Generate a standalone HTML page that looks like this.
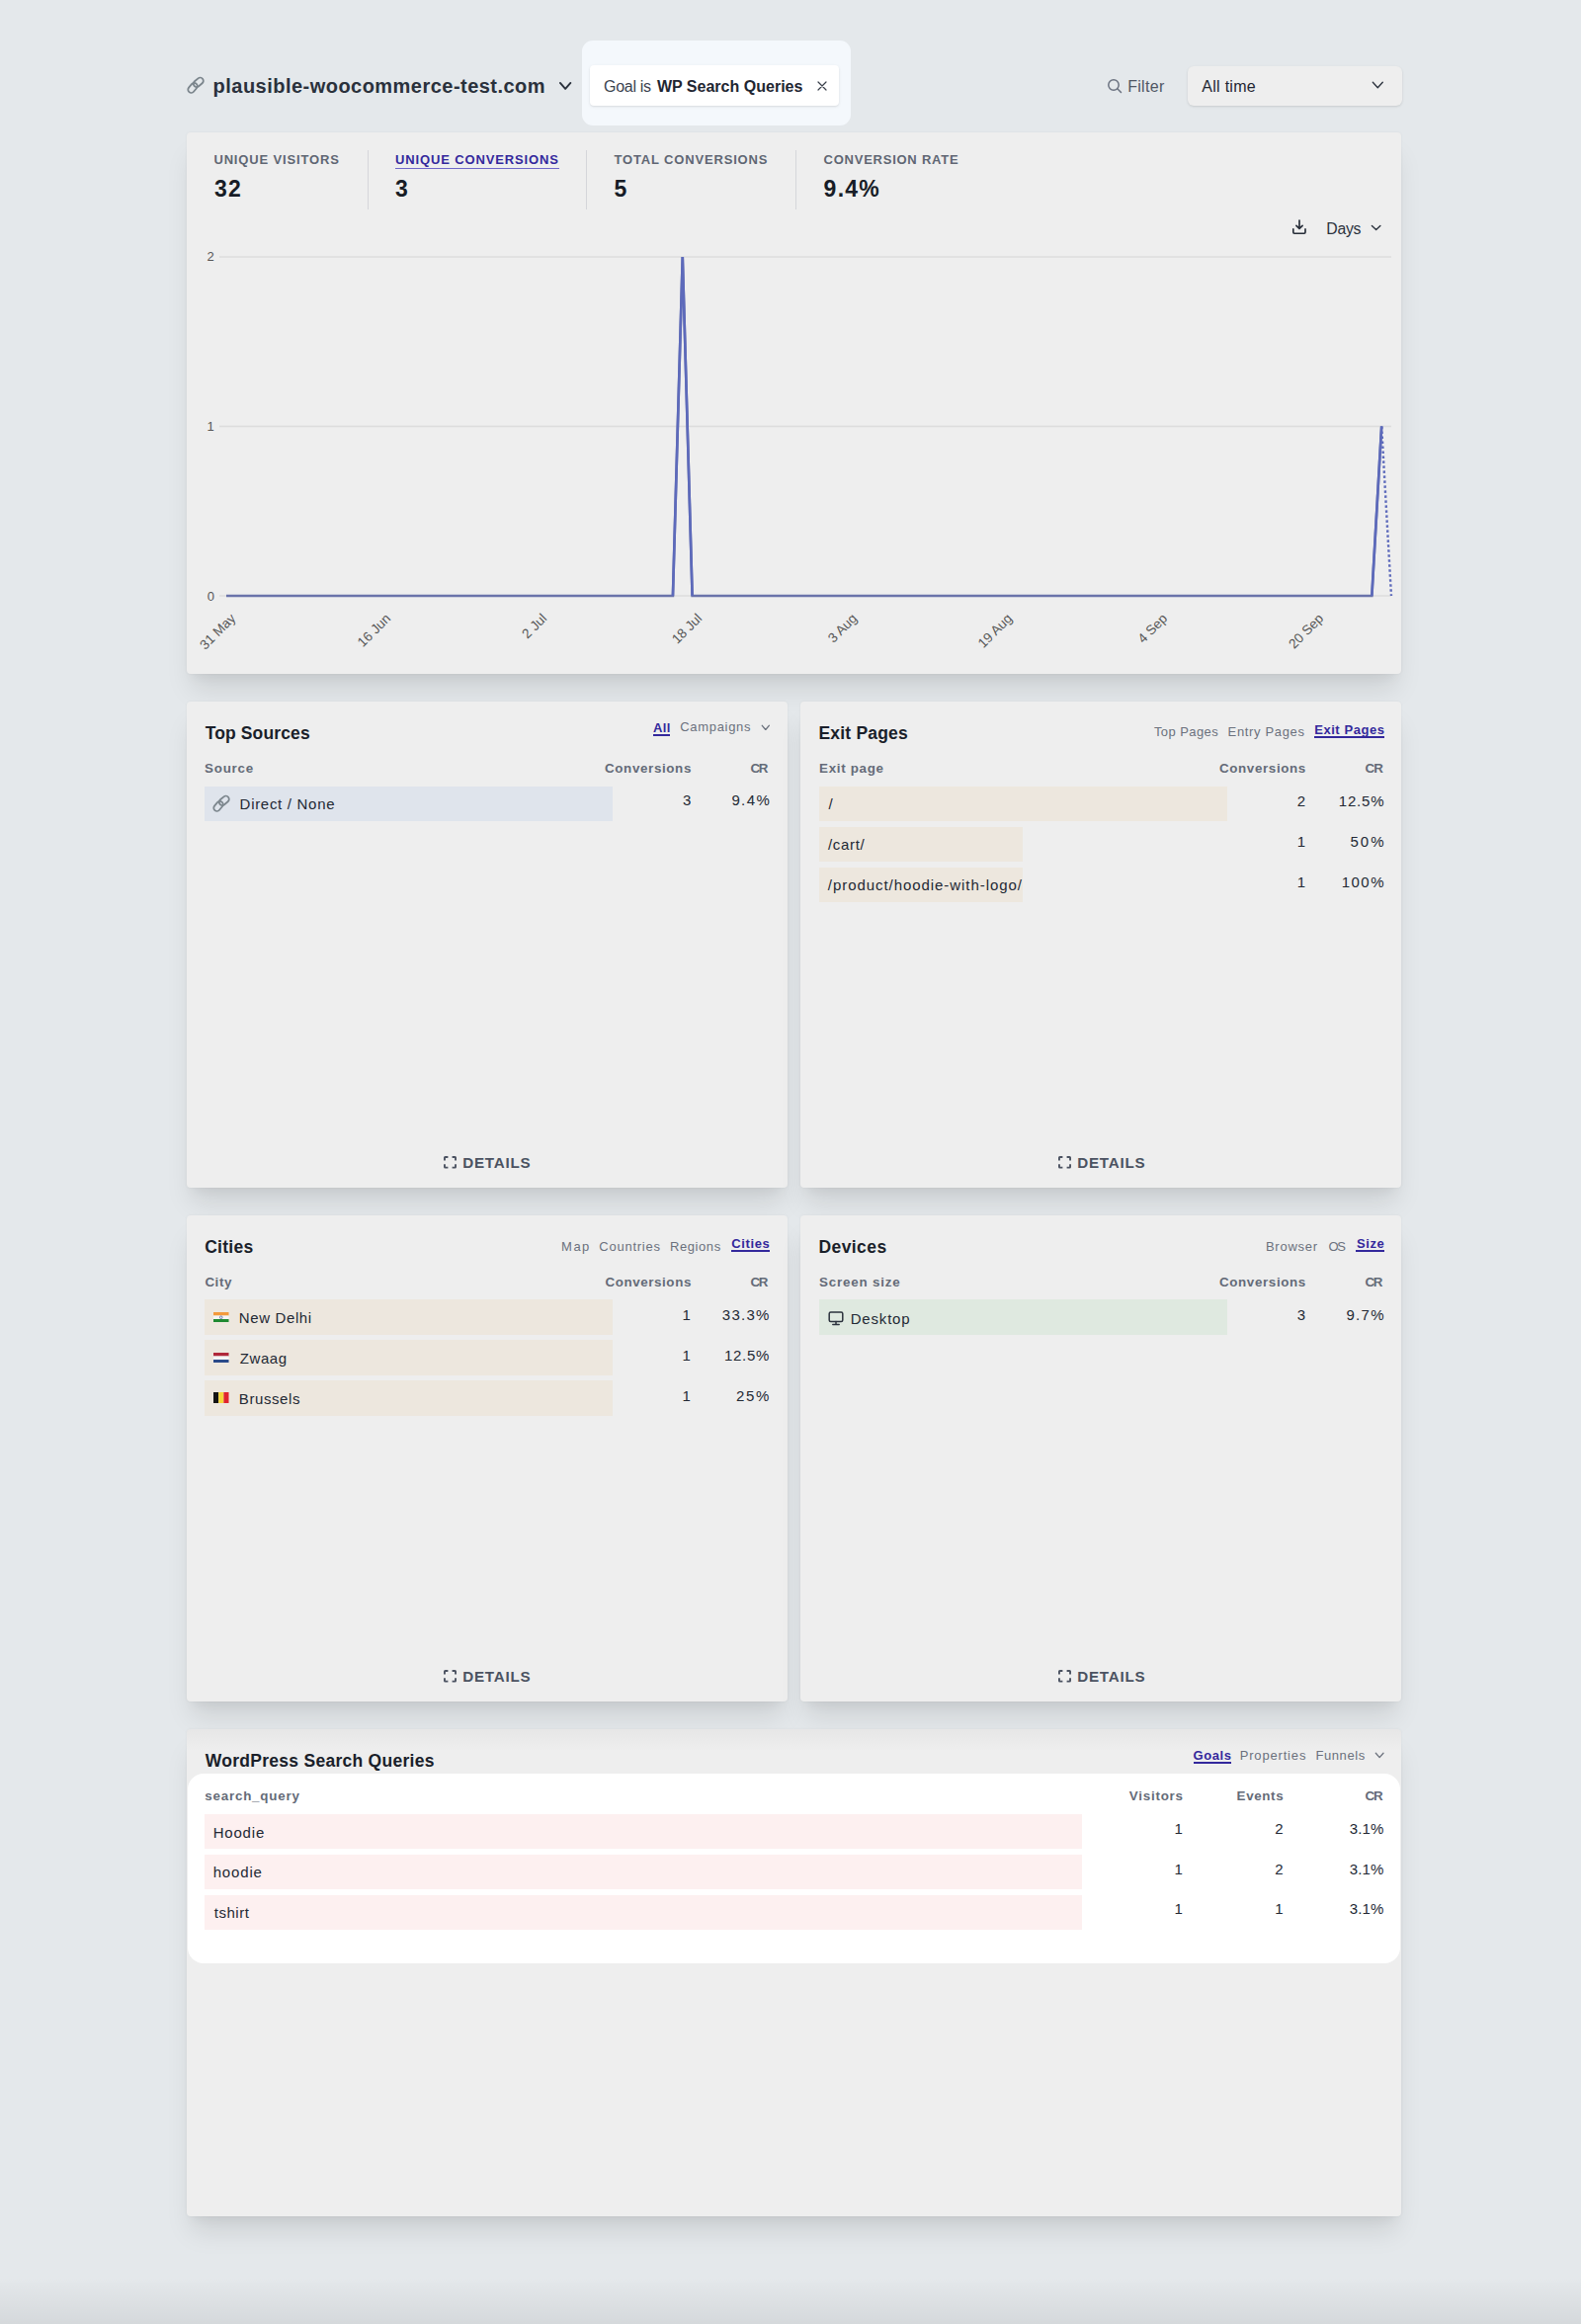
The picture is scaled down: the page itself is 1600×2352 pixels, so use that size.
<!DOCTYPE html>
<html><head><meta charset="utf-8"><title>Plausible</title>
<style>
html,body{margin:0;padding:0}
body{width:1600px;height:2352px;position:relative;overflow:hidden;background:#e4e8eb;font-family:"Liberation Sans",sans-serif}
.card{position:absolute;background:#eeeeee;border-radius:4px;box-shadow:0 20px 25px -5px rgba(0,0,0,0.10), 0 10px 10px -5px rgba(0,0,0,0.04), 0 0 3px rgba(0,0,0,0.05)}
.t{position:absolute;white-space:nowrap;line-height:20px}
.xl{position:absolute;width:200px;height:15px;line-height:15px;text-align:right;font-size:13.6px;color:#575757;transform-origin:100% 50%;transform:rotate(-45deg);white-space:nowrap}
.bot{position:absolute;left:0;right:0;bottom:0;height:46px;background:linear-gradient(to bottom,rgba(0,0,0,0),rgba(0,0,0,0.065))}
</style></head>
<body>
<div class="card" style="left:189px;top:133.6px;width:1229px;height:548.3px"></div>
<div class="card" style="left:189px;top:710px;width:608px;height:492.4px"></div>
<div class="card" style="left:810px;top:710px;width:608px;height:492.4px"></div>
<div class="card" style="left:189px;top:1230px;width:608px;height:492.1px"></div>
<div class="card" style="left:810px;top:1230px;width:608px;height:492.1px"></div>
<div class="card" style="left:189px;top:1750px;width:1229px;height:493.2px"></div>
<div style="position:absolute;left:189px;top:1750px;width:1229px;height:22px;background:linear-gradient(rgba(0,0,0,0.03),rgba(0,0,0,0));border-radius:4px 4px 0 0;"></div>
<div style="position:absolute;left:588.8px;top:41px;width:272.2px;height:86px;background:#f4f8fc;border-radius:11px;"></div>
<div style="position:absolute;left:596.5px;top:65.6px;width:252.5px;height:41px;background:#ffffff;border-radius:4px;box-shadow:0 1px 3px rgba(0,0,0,0.10),0 1px 2px -1px rgba(0,0,0,0.10);"></div>
<div style="position:absolute;left:1202px;top:66.5px;width:217px;height:40px;background:#eeeeee;border-radius:6px;box-shadow:0 1px 3px rgba(0,0,0,0.10),0 1px 2px -1px rgba(0,0,0,0.10);"></div>
<div style="position:absolute;left:189.5px;top:1794.6px;width:1227.5px;height:192px;background:#ffffff;border-radius:16px;"></div>
<div style="position:absolute;left:371.9px;top:152px;width:1px;height:59.5px;background:#d5d6da;"></div>
<div style="position:absolute;left:593.2px;top:152px;width:1px;height:59.5px;background:#d5d6da;"></div>
<div style="position:absolute;left:804.9px;top:152px;width:1px;height:59.5px;background:#d5d6da;"></div>
<div style="position:absolute;left:400px;top:169.5px;width:165.5px;height:1.2px;background:#6f67c9;"></div>
<div style="position:absolute;left:207.3px;top:795.7px;width:412.7px;height:35.6px;background:#dfe4ec;"></div>
<div style="position:absolute;left:828.7px;top:795.7px;width:413.5px;height:35.6px;background:#ede7de;"></div>
<div style="position:absolute;left:828.7px;top:836.7px;width:206.5px;height:35.6px;background:#ede7de;"></div>
<div style="position:absolute;left:828.7px;top:877.7px;width:206.5px;height:35.6px;background:#ede7de;"></div>
<div style="position:absolute;left:207.3px;top:1315.2px;width:412.7px;height:35.6px;background:#ede7de;"></div>
<div style="position:absolute;left:207.3px;top:1356.2px;width:412.7px;height:35.6px;background:#ede7de;"></div>
<div style="position:absolute;left:207.3px;top:1397.2px;width:412.7px;height:35.6px;background:#ede7de;"></div>
<div style="position:absolute;left:828.7px;top:1315.2px;width:413.5px;height:35.6px;background:#dfe9e0;"></div>
<div style="position:absolute;left:207.3px;top:1835.7px;width:888px;height:35.6px;background:#fdf0f0;"></div>
<div style="position:absolute;left:207.3px;top:1876.6000000000001px;width:888px;height:35.6px;background:#fdf0f0;"></div>
<div style="position:absolute;left:207.3px;top:1917.5px;width:888px;height:35.6px;background:#fdf0f0;"></div>
<div style="position:absolute;left:661px;top:742.7px;width:17px;height:2px;background:#33289c;"></div>
<div style="position:absolute;left:1330px;top:744.8px;width:71px;height:2px;background:#33289c;"></div>
<div style="position:absolute;left:740px;top:1265px;width:39px;height:2px;background:#33289c;"></div>
<div style="position:absolute;left:1372px;top:1265px;width:29px;height:2px;background:#33289c;"></div>
<div style="position:absolute;left:1207.5px;top:1783.2px;width:38.5px;height:2px;background:#33289c;"></div>
<svg style="position:absolute;left:185.7px;top:73.9px;" width="24" height="24" viewBox="0 0 24 24"><g fill="none" stroke="#7b858c" stroke-width="1.8"><rect transform="translate(9.00 14.90) rotate(-50)" x="-5.55" y="-3.25" width="11.10" height="6.50" rx="3.25"/><rect transform="translate(14.80 9.30) rotate(-40)" x="-5.55" y="-3.25" width="11.10" height="6.50" rx="3.25"/></g></svg>
<svg style="position:absolute;left:212.4px;top:800.9px;" width="24" height="24" viewBox="0 0 24 24"><g fill="none" stroke="#7d878e" stroke-width="1.8"><rect transform="translate(9.00 14.90) rotate(-50)" x="-5.55" y="-3.25" width="11.10" height="6.50" rx="3.25"/><rect transform="translate(14.80 9.30) rotate(-40)" x="-5.55" y="-3.25" width="11.10" height="6.50" rx="3.25"/></g></svg>
<svg style="position:absolute;left:565.1px;top:81.89999999999999px;" width="14.3" height="9.8" viewBox="0 0 14.3 9.8"><polyline points="1.9,1.9 7.15,7.9 12.4,1.9" fill="none" stroke="#2a313c" stroke-width="1.9" stroke-linecap="round" stroke-linejoin="round"/></svg>
<svg style="position:absolute;left:1388.2px;top:82.2px;" width="12.6" height="8.1" viewBox="0 0 12.6 8.1"><polyline points="1.3,1.3 6.3,6.8 11.299999999999999,1.3" fill="none" stroke="#2a313c" stroke-width="1.3" stroke-linecap="round" stroke-linejoin="round"/></svg>
<svg style="position:absolute;left:1386.6px;top:227.1px;" width="11.3" height="6.8" viewBox="0 0 11.3 6.8"><polyline points="1.4,1.4 5.65,5.4 9.9,1.4" fill="none" stroke="#2b323d" stroke-width="1.4" stroke-linecap="round" stroke-linejoin="round"/></svg>
<svg style="position:absolute;left:769.5px;top:732.7px;" width="9.6" height="6.800000000000045" viewBox="0 0 9.6 6.800000000000045"><polyline points="1.3,1.3 4.8,5.500000000000045 8.299999999999999,1.3" fill="none" stroke="#6b717d" stroke-width="1.3" stroke-linecap="round" stroke-linejoin="round"/></svg>
<svg style="position:absolute;left:1391.2px;top:1773.2px;" width="10.300000000000045" height="6.899999999999954" viewBox="0 0 10.300000000000045 6.899999999999954"><polyline points="1.3,1.3 5.150000000000023,5.599999999999954 9.000000000000044,1.3" fill="none" stroke="#6b717d" stroke-width="1.3" stroke-linecap="round" stroke-linejoin="round"/></svg>
<svg style="position:absolute;left:826.5px;top:81.7px;" width="10" height="10" viewBox="0 0 10 10"><path d="M1 1L9 9M9 1L1 9" stroke="#3a404b" stroke-width="1.2" stroke-linecap="round"/></svg>
<svg style="position:absolute;left:1119.5px;top:79px;" width="16" height="16" viewBox="0 0 16 16"><circle cx="7" cy="7" r="5.2" fill="none" stroke="#6b7280" stroke-width="1.5"/><path d="M10.8 10.8L14.5 14.5" stroke="#6b7280" stroke-width="1.5" stroke-linecap="round"/></svg>
<svg style="position:absolute;left:1306px;top:221px;" width="18" height="18" viewBox="0 0 18 18"><path d="M9 2V10.3M5.9 7.3L9 10.4L12.1 7.3" fill="none" stroke="#262d38" stroke-width="1.65" stroke-linecap="round" stroke-linejoin="round"/><path d="M2.8 10.9V14Q2.8 15.2 4 15.2H13.8Q15 15.2 15 14V10.9" fill="none" stroke="#262d38" stroke-width="1.65" stroke-linecap="round" stroke-linejoin="round"/></svg>
<svg style="position:absolute;left:448.3px;top:1168.9px;" width="15" height="15" viewBox="0 0 15 15"><path d="M1.95 5.4V2.6Q1.95 1.95 2.6 1.95H5.4M9.6 1.95H12.4Q13.05 1.95 13.05 2.6V5.4M13.05 9.2V12Q13.05 12.65 12.4 12.65H9.6M5.4 12.65H2.6Q1.95 12.65 1.95 12V9.2" fill="none" stroke="#4b5261" stroke-width="1.9"/></svg>
<svg style="position:absolute;left:1070.3px;top:1168.9px;" width="15" height="15" viewBox="0 0 15 15"><path d="M1.95 5.4V2.6Q1.95 1.95 2.6 1.95H5.4M9.6 1.95H12.4Q13.05 1.95 13.05 2.6V5.4M13.05 9.2V12Q13.05 12.65 12.4 12.65H9.6M5.4 12.65H2.6Q1.95 12.65 1.95 12V9.2" fill="none" stroke="#4b5261" stroke-width="1.9"/></svg>
<svg style="position:absolute;left:448.3px;top:1689.3px;" width="15" height="15" viewBox="0 0 15 15"><path d="M1.95 5.4V2.6Q1.95 1.95 2.6 1.95H5.4M9.6 1.95H12.4Q13.05 1.95 13.05 2.6V5.4M13.05 9.2V12Q13.05 12.65 12.4 12.65H9.6M5.4 12.65H2.6Q1.95 12.65 1.95 12V9.2" fill="none" stroke="#4b5261" stroke-width="1.9"/></svg>
<svg style="position:absolute;left:1070.3px;top:1689.3px;" width="15" height="15" viewBox="0 0 15 15"><path d="M1.95 5.4V2.6Q1.95 1.95 2.6 1.95H5.4M9.6 1.95H12.4Q13.05 1.95 13.05 2.6V5.4M13.05 9.2V12Q13.05 12.65 12.4 12.65H9.6M5.4 12.65H2.6Q1.95 12.65 1.95 12V9.2" fill="none" stroke="#4b5261" stroke-width="1.9"/></svg>
<svg style="position:absolute;left:837.5px;top:1327.3px;" width="16" height="15" viewBox="0 0 16 15"><rect x="1.2" y="1" width="13.6" height="9.6" rx="1.5" fill="none" stroke="#2b323d" stroke-width="1.5"/><path d="M8 10.6V13.6M4.8 13.6H11.2" stroke="#2b323d" stroke-width="1.5" stroke-linecap="round"/></svg>
<svg style="position:absolute;left:216.2px;top:1327.8px;" width="15.5" height="10.5" viewBox="0 0 15.5 10.5"><rect width="15.5" height="3.5" fill="#f39a3c"/><rect y="3.5" width="15.5" height="3.5" fill="#f5f5f5"/><rect y="7" width="15.5" height="3.5" fill="#1f8a32"/><circle cx="7.75" cy="5.25" r="1.3" fill="none" stroke="#283c8c" stroke-width="0.6"/></svg>
<svg style="position:absolute;left:216.2px;top:1368.9px;" width="15.5" height="10.5" viewBox="0 0 15.5 10.5"><rect width="15.5" height="3.5" fill="#b0283a"/><rect y="3.5" width="15.5" height="3.5" fill="#f5f5f5"/><rect y="7" width="15.5" height="3.5" fill="#2a4a8a"/></svg>
<svg style="position:absolute;left:216.2px;top:1409.2px;" width="15.5" height="11" viewBox="0 0 15.5 11"><rect width="5.2" height="11" fill="#141414"/><rect x="5.2" width="5.2" height="11" fill="#f5d63a"/><rect x="10.4" width="5.1" height="11" fill="#e0242e"/></svg>
<svg style="position:absolute;left:0;top:0" width="1600" height="700" viewBox="0 0 1600 700"><line x1="222" y1="603.0" x2="1408" y2="603.0" stroke="#dcdcdc" stroke-width="1.3"/><line x1="222" y1="431.5" x2="1408" y2="431.5" stroke="#dcdcdc" stroke-width="1.3"/><line x1="222" y1="260.0" x2="1408" y2="260.0" stroke="#dcdcdc" stroke-width="1.3"/><polyline points="229.00,603.00 238.82,603.00 248.65,603.00 258.48,603.00 268.30,603.00 278.12,603.00 287.95,603.00 297.77,603.00 307.60,603.00 317.43,603.00 327.25,603.00 337.07,603.00 346.90,603.00 356.73,603.00 366.55,603.00 376.38,603.00 386.20,603.00 396.02,603.00 405.85,603.00 415.67,603.00 425.50,603.00 435.32,603.00 445.15,603.00 454.98,603.00 464.80,603.00 474.62,603.00 484.45,603.00 494.27,603.00 504.10,603.00 513.92,603.00 523.75,603.00 533.58,603.00 543.40,603.00 553.22,603.00 563.05,603.00 572.88,603.00 582.70,603.00 592.52,603.00 602.35,603.00 612.17,603.00 622.00,603.00 631.83,603.00 641.65,603.00 651.47,603.00 661.30,603.00 671.12,603.00 680.95,603.00 690.77,260.00 700.60,603.00 710.42,603.00 720.25,603.00 730.08,603.00 739.90,603.00 749.72,603.00 759.55,603.00 769.38,603.00 779.20,603.00 789.02,603.00 798.85,603.00 808.67,603.00 818.50,603.00 828.32,603.00 838.15,603.00 847.97,603.00 857.80,603.00 867.62,603.00 877.45,603.00 887.27,603.00 897.10,603.00 906.92,603.00 916.75,603.00 926.57,603.00 936.40,603.00 946.22,603.00 956.05,603.00 965.88,603.00 975.70,603.00 985.52,603.00 995.35,603.00 1005.17,603.00 1015.00,603.00 1024.82,603.00 1034.65,603.00 1044.47,603.00 1054.30,603.00 1064.12,603.00 1073.95,603.00 1083.78,603.00 1093.60,603.00 1103.42,603.00 1113.25,603.00 1123.07,603.00 1132.90,603.00 1142.72,603.00 1152.55,603.00 1162.38,603.00 1172.20,603.00 1182.03,603.00 1191.85,603.00 1201.67,603.00 1211.50,603.00 1221.32,603.00 1231.15,603.00 1240.97,603.00 1250.80,603.00 1260.62,603.00 1270.45,603.00 1280.27,603.00 1290.10,603.00 1299.92,603.00 1309.75,603.00 1319.57,603.00 1329.40,603.00 1339.22,603.00 1349.05,603.00 1358.88,603.00 1368.70,603.00 1378.52,603.00 1388.35,603.00 1398.17,431.50" fill="none" stroke="#6a73aa" stroke-width="2.6" stroke-linejoin="miter"/><polyline points="680.95,603.00 690.77,260.00 700.60,603.00" fill="none" stroke="#5d6abb" stroke-width="2.6" stroke-linejoin="miter"/><polyline points="1388.35,603.00 1398.17,431.50" fill="none" stroke="#5d6abb" stroke-width="2.6"/><line x1="1398.17" y1="431.50" x2="1408.00" y2="603.00" stroke="#5d6abb" stroke-width="2.4" stroke-dasharray="2.5,2.5"/></svg>
<div class="xl" style="left:36.20px;top:615.70px">31 May</div>
<div class="xl" style="left:193.40px;top:615.70px">16 Jun</div>
<div class="xl" style="left:350.60px;top:615.70px">2 Jul</div>
<div class="xl" style="left:507.80px;top:615.70px">18 Jul</div>
<div class="xl" style="left:665.00px;top:615.70px">3 Aug</div>
<div class="xl" style="left:822.20px;top:615.70px">19 Aug</div>
<div class="xl" style="left:979.40px;top:615.70px">4 Sep</div>
<div class="xl" style="left:1136.60px;top:615.70px">20 Sep</div>
<div class="t" style="left:215.60px;top:77.00px;font-size:20px;font-weight:700;color:#2a313c;letter-spacing:0.472px">plausible-woocommerce-test.com</div>
<div class="t" style="left:611.00px;top:77.50px;font-size:16px;font-weight:400;color:#3b4350;letter-spacing:-0.283px">Goal is</div>
<div class="t" style="left:664.90px;top:77.50px;font-size:16px;font-weight:700;color:#1f2632;letter-spacing:0.011px">WP Search Queries</div>
<div class="t" style="left:1141.20px;top:77.60px;font-size:16px;font-weight:400;color:#505764;letter-spacing:0.295px">Filter</div>
<div class="t" style="left:1216.30px;top:77.60px;font-size:16px;font-weight:400;color:#1f2632;letter-spacing:0.278px">All time</div>
<div class="t" style="left:216.40px;top:151.70px;font-size:13px;font-weight:700;color:#5f6673;letter-spacing:0.854px">UNIQUE VISITORS</div>
<div class="t" style="left:400.00px;top:152.00px;font-size:13px;font-weight:700;color:#33289c;letter-spacing:0.860px">UNIQUE CONVERSIONS</div>
<div class="t" style="left:621.50px;top:151.80px;font-size:13px;font-weight:700;color:#5f6673;letter-spacing:0.835px">TOTAL CONVERSIONS</div>
<div class="t" style="left:833.60px;top:151.80px;font-size:13px;font-weight:700;color:#5f6673;letter-spacing:0.752px">CONVERSION RATE</div>
<div class="t" style="left:217.00px;top:181.30px;font-size:23px;font-weight:700;color:#171c26;letter-spacing:1.108px">32</div>
<div class="t" style="left:400.00px;top:181.30px;font-size:23px;font-weight:700;color:#171c26;letter-spacing:0.000px">3</div>
<div class="t" style="left:621.50px;top:181.30px;font-size:23px;font-weight:700;color:#171c26;letter-spacing:0.000px">5</div>
<div class="t" style="left:833.60px;top:181.30px;font-size:23px;font-weight:700;color:#171c26;letter-spacing:1.242px">9.4%</div>
<div class="t" style="left:1342.30px;top:221.70px;font-size:15.8px;font-weight:400;color:#2b323d;letter-spacing:-0.264px">Days</div>
<div class="t" style="left:209.60px;top:249.80px;font-size:13px;font-weight:400;color:#575757;letter-spacing:0.000px">2</div>
<div class="t" style="left:209.60px;top:421.50px;font-size:13px;font-weight:400;color:#575757;letter-spacing:0.000px">1</div>
<div class="t" style="left:209.80px;top:593.50px;font-size:13px;font-weight:400;color:#575757;letter-spacing:0.000px">0</div>
<div class="t" style="left:207.70px;top:731.80px;font-size:17.5px;font-weight:700;color:#1a1f2a;letter-spacing:0.124px">Top Sources</div>
<div class="t" style="left:661.10px;top:726.50px;font-size:13px;font-weight:700;color:#33289c;letter-spacing:0.350px">All</div>
<div class="t" style="left:688.20px;top:726.30px;font-size:13px;font-weight:400;color:#6b717d;letter-spacing:0.693px">Campaigns</div>
<div class="t" style="left:207.10px;top:767.50px;font-size:13.4px;font-weight:700;color:#646b78;letter-spacing:0.730px">Source</div>
<div class="t" style="left:612.00px;top:767.50px;font-size:13.4px;font-weight:700;color:#646b78;letter-spacing:0.624px">Conversions</div>
<div class="t" style="left:759.60px;top:767.50px;font-size:13.4px;font-weight:700;color:#646b78;letter-spacing:-1.570px">CR</div>
<div class="t" style="left:242.60px;top:804.20px;font-size:15px;font-weight:400;color:#232934;letter-spacing:0.701px">Direct / None</div>
<div class="t" style="left:691.00px;top:800.30px;font-size:15px;font-weight:400;color:#232934;letter-spacing:0.000px">3</div>
<div class="t" style="left:740.40px;top:800.30px;font-size:15px;font-weight:400;color:#232934;letter-spacing:1.383px">9.4%</div>
<div class="t" style="left:828.50px;top:731.80px;font-size:17.5px;font-weight:700;color:#1a1f2a;letter-spacing:0.191px">Exit Pages</div>
<div class="t" style="left:1167.90px;top:731.20px;font-size:13px;font-weight:400;color:#6b717d;letter-spacing:0.433px">Top Pages</div>
<div class="t" style="left:1242.60px;top:731.20px;font-size:13px;font-weight:400;color:#6b717d;letter-spacing:0.649px">Entry Pages</div>
<div class="t" style="left:1330.20px;top:728.90px;font-size:13px;font-weight:700;color:#33289c;letter-spacing:0.553px">Exit Pages</div>
<div class="t" style="left:829.10px;top:767.50px;font-size:13.4px;font-weight:700;color:#646b78;letter-spacing:0.677px">Exit page</div>
<div class="t" style="left:1234.00px;top:767.50px;font-size:13.4px;font-weight:700;color:#646b78;letter-spacing:0.614px">Conversions</div>
<div class="t" style="left:1381.40px;top:767.50px;font-size:13.4px;font-weight:700;color:#646b78;letter-spacing:-0.870px">CR</div>
<div class="t" style="left:838.50px;top:804.20px;font-size:15px;font-weight:400;color:#232934;letter-spacing:0.000px">/</div>
<div class="t" style="left:837.90px;top:845.20px;font-size:15px;font-weight:400;color:#232934;letter-spacing:0.706px">/cart/</div>
<div class="t" style="left:837.80px;top:886.20px;font-size:15px;font-weight:400;color:#232934;letter-spacing:0.943px">/product/hoodie-with-logo/</div>
<div class="t" style="left:1312.80px;top:800.80px;font-size:15px;font-weight:400;color:#232934;letter-spacing:0.000px">2</div>
<div class="t" style="left:1354.80px;top:800.80px;font-size:15px;font-weight:400;color:#232934;letter-spacing:0.801px">12.5%</div>
<div class="t" style="left:1312.80px;top:841.70px;font-size:15px;font-weight:400;color:#232934;letter-spacing:0.000px">1</div>
<div class="t" style="left:1366.50px;top:841.70px;font-size:15px;font-weight:400;color:#232934;letter-spacing:2.008px">50%</div>
<div class="t" style="left:1312.80px;top:882.60px;font-size:15px;font-weight:400;color:#232934;letter-spacing:0.000px">1</div>
<div class="t" style="left:1357.70px;top:882.60px;font-size:15px;font-weight:400;color:#232934;letter-spacing:1.491px">100%</div>
<div class="t" style="left:207.20px;top:1251.80px;font-size:17.5px;font-weight:700;color:#1a1f2a;letter-spacing:0.276px">Cities</div>
<div class="t" style="left:568.10px;top:1251.50px;font-size:13px;font-weight:400;color:#6b717d;letter-spacing:1.470px">Map</div>
<div class="t" style="left:606.30px;top:1251.50px;font-size:13px;font-weight:400;color:#6b717d;letter-spacing:0.758px">Countries</div>
<div class="t" style="left:677.90px;top:1251.50px;font-size:13px;font-weight:400;color:#6b717d;letter-spacing:0.601px">Regions</div>
<div class="t" style="left:740.20px;top:1249.00px;font-size:13px;font-weight:700;color:#33289c;letter-spacing:0.646px">Cities</div>
<div class="t" style="left:207.40px;top:1287.50px;font-size:13.4px;font-weight:700;color:#646b78;letter-spacing:0.550px">City</div>
<div class="t" style="left:612.40px;top:1287.50px;font-size:13.4px;font-weight:700;color:#646b78;letter-spacing:0.584px">Conversions</div>
<div class="t" style="left:759.60px;top:1287.50px;font-size:13.4px;font-weight:700;color:#646b78;letter-spacing:-1.470px">CR</div>
<div class="t" style="left:241.80px;top:1324.30px;font-size:15px;font-weight:400;color:#232934;letter-spacing:0.622px">New Delhi</div>
<div class="t" style="left:690.60px;top:1320.80px;font-size:15px;font-weight:400;color:#232934;letter-spacing:0.000px">1</div>
<div class="t" style="left:730.80px;top:1320.80px;font-size:15px;font-weight:400;color:#232934;letter-spacing:1.276px">33.3%</div>
<div class="t" style="left:242.80px;top:1365.30px;font-size:15px;font-weight:400;color:#232934;letter-spacing:0.555px">Zwaag</div>
<div class="t" style="left:690.60px;top:1361.70px;font-size:15px;font-weight:400;color:#232934;letter-spacing:0.000px">1</div>
<div class="t" style="left:732.90px;top:1361.70px;font-size:15px;font-weight:400;color:#232934;letter-spacing:0.751px">12.5%</div>
<div class="t" style="left:241.80px;top:1406.30px;font-size:15px;font-weight:400;color:#232934;letter-spacing:0.583px">Brussels</div>
<div class="t" style="left:690.60px;top:1402.60px;font-size:15px;font-weight:400;color:#232934;letter-spacing:0.000px">1</div>
<div class="t" style="left:745.00px;top:1402.60px;font-size:15px;font-weight:400;color:#232934;letter-spacing:1.708px">25%</div>
<div class="t" style="left:828.50px;top:1251.80px;font-size:17.5px;font-weight:700;color:#1a1f2a;letter-spacing:0.412px">Devices</div>
<div class="t" style="left:1280.90px;top:1251.50px;font-size:13px;font-weight:400;color:#6b717d;letter-spacing:0.759px">Browser</div>
<div class="t" style="left:1344.50px;top:1251.50px;font-size:13px;font-weight:400;color:#6b717d;letter-spacing:-1.412px">OS</div>
<div class="t" style="left:1372.90px;top:1249.00px;font-size:13px;font-weight:700;color:#33289c;letter-spacing:0.606px">Size</div>
<div class="t" style="left:829.10px;top:1287.50px;font-size:13.4px;font-weight:700;color:#646b78;letter-spacing:0.795px">Screen size</div>
<div class="t" style="left:1234.00px;top:1287.50px;font-size:13.4px;font-weight:700;color:#646b78;letter-spacing:0.614px">Conversions</div>
<div class="t" style="left:1381.50px;top:1287.50px;font-size:13.4px;font-weight:700;color:#646b78;letter-spacing:-1.370px">CR</div>
<div class="t" style="left:860.70px;top:1324.50px;font-size:15px;font-weight:400;color:#232934;letter-spacing:0.819px">Desktop</div>
<div class="t" style="left:1312.80px;top:1320.80px;font-size:15px;font-weight:400;color:#232934;letter-spacing:0.000px">3</div>
<div class="t" style="left:1362.40px;top:1320.80px;font-size:15px;font-weight:400;color:#232934;letter-spacing:1.316px">9.7%</div>
<div class="t" style="left:207.80px;top:1771.60px;font-size:17.5px;font-weight:700;color:#1a1f2a;letter-spacing:0.274px">WordPress Search Queries</div>
<div class="t" style="left:1207.60px;top:1767.00px;font-size:13px;font-weight:700;color:#33289c;letter-spacing:0.576px">Goals</div>
<div class="t" style="left:1254.70px;top:1767.00px;font-size:13px;font-weight:400;color:#6b717d;letter-spacing:0.828px">Properties</div>
<div class="t" style="left:1331.40px;top:1767.00px;font-size:13px;font-weight:400;color:#6b717d;letter-spacing:0.608px">Funnels</div>
<div class="t" style="left:207.30px;top:1808.00px;font-size:13.4px;font-weight:700;color:#646b78;letter-spacing:0.769px">search_query</div>
<div class="t" style="left:1142.80px;top:1807.70px;font-size:13.4px;font-weight:700;color:#646b78;letter-spacing:0.768px">Visitors</div>
<div class="t" style="left:1251.60px;top:1807.70px;font-size:13.4px;font-weight:700;color:#646b78;letter-spacing:0.627px">Events</div>
<div class="t" style="left:1381.60px;top:1807.70px;font-size:13.4px;font-weight:700;color:#646b78;letter-spacing:-1.270px">CR</div>
<div class="t" style="left:215.70px;top:1844.60px;font-size:15px;font-weight:400;color:#232934;letter-spacing:0.802px">Hoodie</div>
<div class="t" style="left:1188.40px;top:1840.60px;font-size:15px;font-weight:400;color:#232934;letter-spacing:0.000px">1</div>
<div class="t" style="left:1290.20px;top:1840.60px;font-size:15px;font-weight:400;color:#232934;letter-spacing:0.000px">2</div>
<div class="t" style="left:1365.80px;top:1840.60px;font-size:15px;font-weight:400;color:#232934;letter-spacing:0.116px">3.1%</div>
<div class="t" style="left:215.70px;top:1885.30px;font-size:15px;font-weight:400;color:#232934;letter-spacing:0.840px">hoodie</div>
<div class="t" style="left:1188.40px;top:1881.50px;font-size:15px;font-weight:400;color:#232934;letter-spacing:0.000px">1</div>
<div class="t" style="left:1290.20px;top:1881.50px;font-size:15px;font-weight:400;color:#232934;letter-spacing:0.000px">2</div>
<div class="t" style="left:1365.80px;top:1881.50px;font-size:15px;font-weight:400;color:#232934;letter-spacing:0.116px">3.1%</div>
<div class="t" style="left:216.70px;top:1926.00px;font-size:15px;font-weight:400;color:#232934;letter-spacing:0.533px">tshirt</div>
<div class="t" style="left:1188.40px;top:1922.40px;font-size:15px;font-weight:400;color:#232934;letter-spacing:0.000px">1</div>
<div class="t" style="left:1290.20px;top:1922.40px;font-size:15px;font-weight:400;color:#232934;letter-spacing:0.000px">1</div>
<div class="t" style="left:1365.80px;top:1922.40px;font-size:15px;font-weight:400;color:#232934;letter-spacing:0.116px">3.1%</div>
<div class="t" style="left:468.30px;top:1166.90px;font-size:15.2px;font-weight:700;color:#4b5261;letter-spacing:0.731px">DETAILS</div>
<div class="t" style="left:1090.30px;top:1166.90px;font-size:15.2px;font-weight:700;color:#4b5261;letter-spacing:0.731px">DETAILS</div>
<div class="t" style="left:468.30px;top:1687.20px;font-size:15.2px;font-weight:700;color:#4b5261;letter-spacing:0.731px">DETAILS</div>
<div class="t" style="left:1090.30px;top:1687.20px;font-size:15.2px;font-weight:700;color:#4b5261;letter-spacing:0.731px">DETAILS</div>
<div class="bot"></div>
</body></html>
